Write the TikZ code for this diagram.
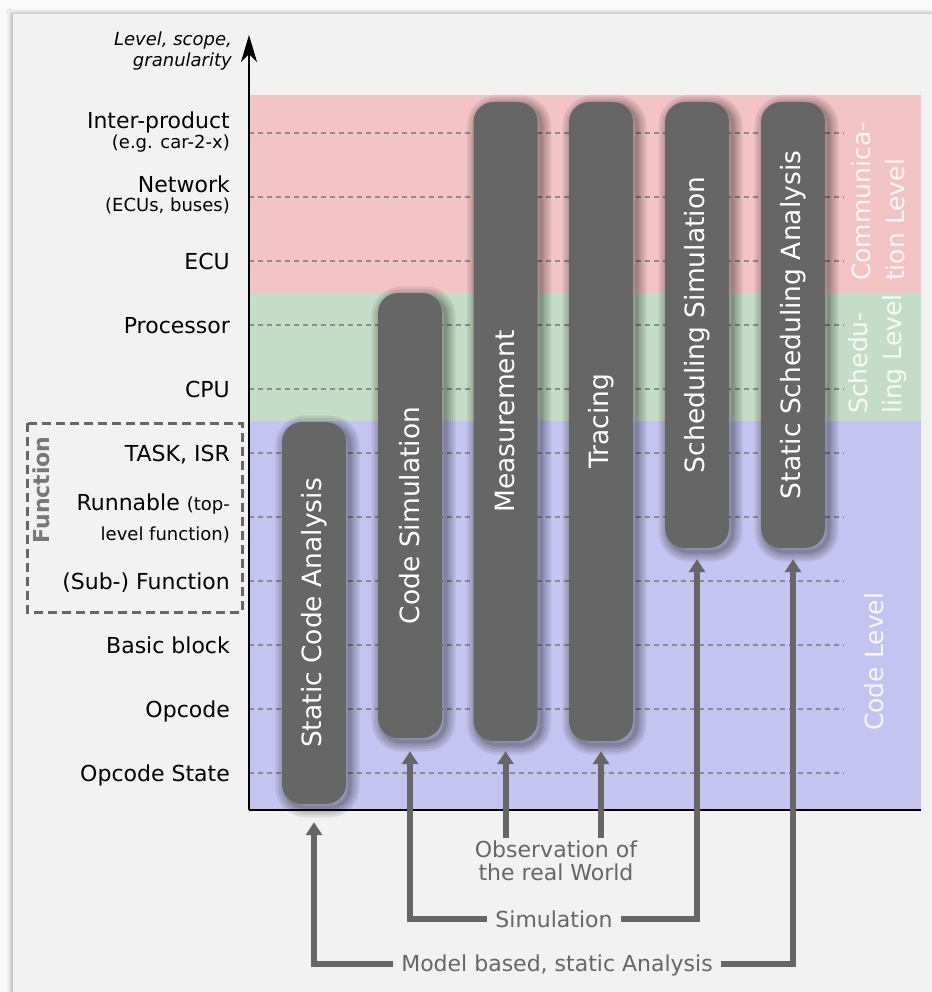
\documentclass[tikz,border=0pt]{standalone}
\usepackage{fontspec}
\usepackage{graphicx}
\setmainfont{DejaVu Sans}[ItalicFont={DejaVu Sans Oblique},BoldFont={DejaVu Sans Bold}]
\usetikzlibrary{arrows.meta,shadows.blur,calc}

\definecolor{bandred}{HTML}{F2C4C4}
\definecolor{bandgreen}{HTML}{C4DDC6}
\definecolor{bandblue}{HTML}{C4C4F0}
\definecolor{barfill}{HTML}{666666}
\definecolor{panelfill}{HTML}{F2F2F2}
\definecolor{outerfill}{HTML}{F9F9F9}
\definecolor{gridgray}{HTML}{8C8C8C}
\definecolor{labelgray}{HTML}{666666}
\definecolor{funcgray}{HTML}{777777}

\newcommand\smalltxt{\fontsize{18}{20}\selectfont}

\begin{document}
\begin{tikzpicture}[x=1pt,y=-1pt,
  levelgrid/.style={gridgray, line width=1.3pt, dash pattern=on 5pt off 4pt},
  levellabel/.style={anchor=base east, inner sep=0pt, align=right,
    font=\fontsize{22}{26}\selectfont},
  axisline/.style={line width=1.6pt, black},
  softshadow/.style={preaction={draw=black, line width=#1, draw opacity=0.08,
    transform canvas={xshift=3.5pt, yshift=-3.5pt}}},
  bar/.style={fill=barfill, rounded corners=20pt, minimum width=64pt,
    inner sep=0pt, text=white, font=\fontsize{26.5}{30}\selectfont,
    softshadow=20pt, softshadow=15pt, softshadow=10pt, softshadow=6pt,
    softshadow=3pt},
  vlevel/.style={rotate=90, anchor=west, align=left, inner sep=0pt,
    text=white, text opacity=0.85, font=\fontsize{25}{34}\selectfont},
  bottomlabel/.style={text=labelgray, font=\fontsize{22}{23}\selectfont},
  onelinelabel/.style={bottomlabel, text height=16.5pt, text depth=0pt,
    inner ysep=0pt, inner xsep=8pt},
  conn/.style={draw=labelgray, line width=6pt, line join=miter},
  tipped/.style={-{Triangle[width=16pt,length=13pt]}},
]
\useasboundingbox (0,0) rectangle (931,992);

% page and panel
\fill[outerfill] (0,0) rectangle (931,992);
\fill[panelfill, blur shadow={shadow xshift=-2pt, shadow yshift=1pt,
  shadow blur radius=4pt, shadow opacity=30}] (13,14) rectangle (945,1005);

% level bands
\fill[bandred]   (249,95)  rectangle (921,293);
\fill[bandgreen] (249,293) rectangle (921,421);
\fill[bandblue]  (249,421) rectangle (921,810);

% level grid
\foreach \yy in {133,197,...,773}
  \draw[levelgrid] (249,\yy) -- (844,\yy);

% axes
\coordinate (origin) at (249,810);
\coordinate (ytip) at (249,35);
\coordinate (xend) at (921,810);
\draw[axisline] (origin) -- (xend);
\draw[axisline, -{Stealth[length=27pt,width=16pt,inset=8pt]}] (origin) -- (ytip);

\node[anchor=base east, align=right, inner sep=0pt,
  font=\fontsize{18}{21}\selectfont\itshape] (axislabel) at (232,67)
  {Level, scope,\\granularity};

% level labels (base anchor sits on the last line)
\node[levellabel] (l0) at (230,149) {Inter-product\\[-6pt]{\smalltxt (e.g. car-2-x)}};
\node[levellabel] (l1) at (230,212) {Network\\[-7pt]{\smalltxt (ECUs, buses)}};
\node[levellabel] (l2) at (230,269) {ECU};
\node[levellabel] (l3) at (230,333) {Processor};
\node[levellabel] (l4) at (230,397) {CPU};
\node[levellabel] (l5) at (230,461) {TASK, ISR};
\node[levellabel] (l6) at (230,540) {Runnable {\smalltxt (top-}\\[4pt]{\smalltxt level function)}};
\node[levellabel] (l7) at (230,589) {(Sub-) Function};
\node[levellabel] (l8) at (230,653) {Basic block};
\node[levellabel] (l9) at (230,717) {Opcode};
\node[levellabel] (l10) at (230,781) {Opcode State};

% function group
\draw[labelgray, line width=3pt, dash pattern=on 9pt off 5pt] (27,423) rectangle (242,612);
\node[rotate=90, text=funcgray, font=\fontsize{22}{26}\selectfont\bfseries] (func) at (41,490) {Function};

% level names
\node[vlevel] (comm) at (878,281) {Communica-\\tion Level};
\node[vlevel] (sched) at (878,414) {Schedu-\\ling Level};
\node[vlevel] (code) at (874,731) {Code Level};

% method bars
\node[bar, minimum height=382pt] (sca)  at (314,613)   {\rotatebox{90}{Static Code Analysis}};
\node[bar, minimum height=445pt] (cs)   at (410,515.5) {\rotatebox{90}{Code Simulation}};
\node[bar, minimum height=639pt] (meas) at (505.5,421.5) {\rotatebox{90}{Measurement}};
\node[bar, minimum height=639pt] (trac) at (601,421.5) {\rotatebox{90}{Tracing}};
\node[bar, minimum height=446pt] (ss)   at (697,325)   {\rotatebox{90}{Scheduling Simulation}};
\node[bar, minimum height=446pt] (ssa)  at (793,325)   {\rotatebox{90}{Static Scheduling Analysis}};

% method categories
\node[bottomlabel, align=center, inner sep=3pt] (obs) at (556,861) {Observation of\\the real World};
\node[onelinelabel] (sim) at (554,919) {Simulation};
\node[onelinelabel] (model) at (557,963.5) {Model based, static Analysis};

% connectors
\draw[conn, tipped] (meas.south |- obs.north) -- ([yshift=-10pt]meas.south);
\draw[conn, tipped] (trac.south |- obs.north) -- ([yshift=-10pt]trac.south);
\draw[conn, tipped] (sim.west) -| ([yshift=-13pt]cs.south);
\draw[conn, tipped] (sim.east) -| ([yshift=-11pt]ss.south);
\draw[conn, tipped] (model.west) -| ([yshift=-18pt]sca.south);
\draw[conn, tipped] (model.east) -| ([yshift=-11pt]ssa.south);
\end{tikzpicture}
\end{document}
